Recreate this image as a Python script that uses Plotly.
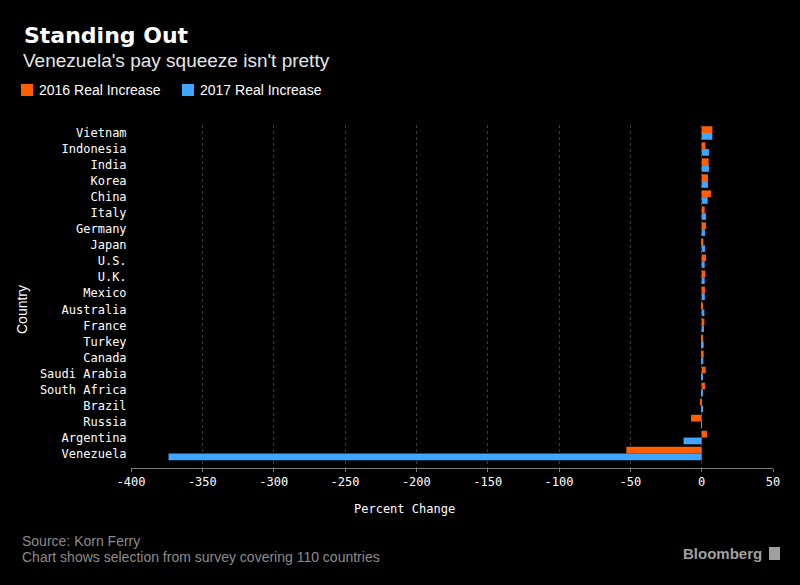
import plotly.graph_objects as go

countries = ["Vietnam", "Indonesia", "India", "Korea", "China", "Italy", "Germany",
             "Japan", "U.S.", "U.K.", "Mexico", "Australia", "France", "Turkey",
             "Canada", "Saudi Arabia", "South Africa", "Brazil", "Russia",
             "Argentina", "Venezuela"]
inc_2016 = [7.5, 2.6, 4.9, 4.4, 6.5, 2.1, 3.0, 1.2, 3.0, 2.6, 2.3, 0.6, 1.9, 0.6,
            1.4, 2.8, 2.3, -1.2, -7.5, 3.7, -52.8]
inc_2017 = [7.5, 5.1, 5.1, 4.4, 4.2, 3.0, 2.3, 2.3, 2.1, 2.1, 2.2, 1.9, 1.6, 1.4,
            1.2, 0.7, 0.5, 0.4, 0.2, -12.7, -373.7]
x_ticks = [-400, -350, -300, -250, -200, -150, -100, -50, 0, 50]

ORANGE = "#ff5f00"
BLUE = "#3fa5ff"

# plot area in pixels
L, R, T, B = 131, 773, 125, 468
W, H = R - L, B - T


def px(x):
    return (x - L) / W


def py(y):
    return (B - y) / H


fig = go.Figure()
fig.add_trace(go.Bar(y=countries, x=inc_2016, orientation="h", name="2016 Real Increase",
                     marker=dict(color=ORANGE, line=dict(width=0)), showlegend=False))
fig.add_trace(go.Bar(y=countries, x=inc_2017, orientation="h", name="2017 Real Increase",
                     marker=dict(color=BLUE, line=dict(width=0)), showlegend=False))

mono = "DejaVu Sans Mono"
sans = "Liberation Sans"

fig.update_layout(
    width=800, height=585,
    paper_bgcolor="#000000", plot_bgcolor="#000000",
    margin=dict(l=L, r=800 - R, t=T, b=585 - B, pad=0),
    barmode="group", bargap=0.16, bargroupgap=0,
    xaxis=dict(range=[-400, 50], tickvals=x_ticks, ticktext=[str(v) for v in x_ticks],
               showgrid=True, gridcolor="#3a3a3a", gridwidth=1, griddash="dot", zeroline=False,
               showline=True, linecolor="#7a7a7a", linewidth=1,
               ticks="outside", ticklen=3, tickcolor="#7a7a7a",
               tickfont=dict(family=mono, size=12, color="#ffffff"), fixedrange=True),
    yaxis=dict(range=[20.9, -0.5], showgrid=False, zeroline=False, showline=False,
               ticks="outside", ticklen=1, tickcolor="rgba(0,0,0,0)",
               tickfont=dict(family=mono, size=12, color="#ffffff"), fixedrange=True),
    showlegend=False,
)

ann = []
ann.append(dict(text="<b>Standing Out</b>", x=px(22), y=py(36), xanchor="left", yanchor="middle",
                font=dict(family="DejaVu Sans", size=22, color="#ffffff")))
ann.append(dict(text="Venezuela's pay squeeze isn't pretty", x=px(21), y=py(61), xanchor="left",
                yanchor="middle", font=dict(family=sans, size=19, color="#e6e6e6")))
ann.append(dict(text="2016 Real Increase", x=px(37), y=py(90), xanchor="left", yanchor="middle",
                font=dict(family=sans, size=14, color="#ffffff")))
ann.append(dict(text="2017 Real Increase", x=px(198), y=py(90), xanchor="left", yanchor="middle",
                font=dict(family=sans, size=14, color="#ffffff")))
ann.append(dict(text="Country", x=px(22), y=py(310), xanchor="center", yanchor="middle",
                textangle=-90, font=dict(family=sans, size=14, color="#ffffff")))
ann.append(dict(text="Percent Change", x=px(404), y=py(509), xanchor="center", yanchor="middle",
                font=dict(family=mono, size=12, color="#ffffff")))
ann.append(dict(text="Source: Korn Ferry", x=px(20), y=py(541), xanchor="left", yanchor="middle",
                font=dict(family=sans, size=14, color="#8c8c8c")))
ann.append(dict(text="Chart shows selection from survey covering 110 countries", x=px(20), y=py(557),
                xanchor="left", yanchor="middle", font=dict(family=sans, size=14, color="#8c8c8c")))
ann.append(dict(text="<b>Bloomberg</b>", x=px(764), y=py(553), xanchor="right", yanchor="middle",
                font=dict(family=sans, size=15, color="#a0a0a0")))
for a in ann:
    a.update(xref="paper", yref="paper", showarrow=False)
fig.update_layout(annotations=ann)

shapes = [
    dict(type="rect", x0=px(21), x1=px(33), y0=py(96), y1=py(84), fillcolor=ORANGE, line=dict(width=0)),
    dict(type="rect", x0=px(182), x1=px(194), y0=py(96), y1=py(84), fillcolor=BLUE, line=dict(width=0)),
    dict(type="rect", x0=px(769), x1=px(780), y0=py(560), y1=py(547), fillcolor="#a0a0a0", line=dict(width=0)),
]
for s in shapes:
    s.update(xref="paper", yref="paper")
fig.update_layout(shapes=shapes)

fig.write_html("out.html", config={"displayModeBar": False},
               post_script="document.body.style.margin='0';document.body.style.background='#000';")
